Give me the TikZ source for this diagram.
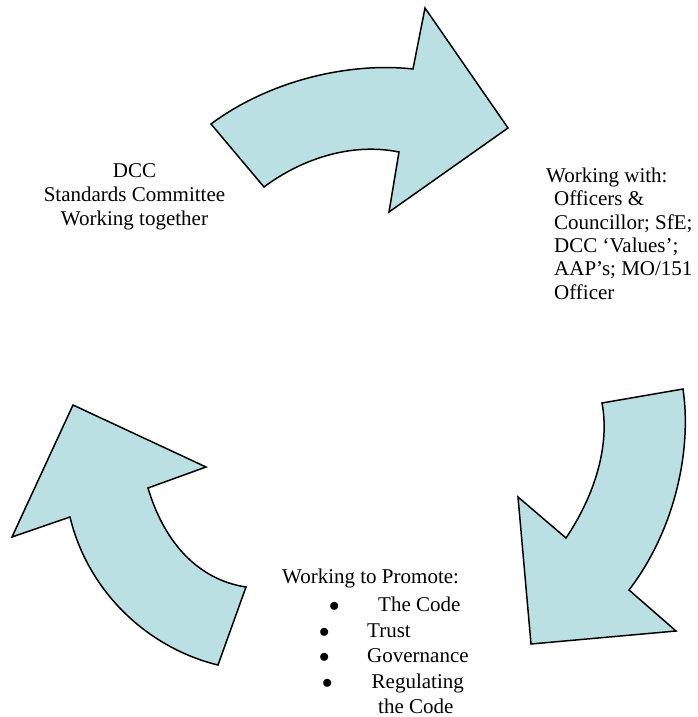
\documentclass[tikz,border=0pt]{standalone}
\usepackage{fontspec}
\setmainfont{Liberation Serif}
\definecolor{cyclefill}{RGB}{187,224,227}
\tikzset{
  cyclearrow/.style={fill=cyclefill, draw=black, line width=1.5pt, line join=miter},
  cycletext/.style={inner sep=0pt, font=\fontsize{21}{24}\selectfont}
}
\begin{document}
\begin{tikzpicture}[x=1pt,y=-1pt]
  \useasboundingbox (0,0) rectangle (698,717);

  % the three curved arrows
  \draw[cyclearrow] (211,124) .. controls (270,80) and (350,62) .. (413,69) -- (425,8) -- (508,128) -- (389,212) -- (399,152) .. controls (350,142) and (300,160) .. (264,187) -- cycle;
  \draw[cyclearrow] (602,403) -- (683,389) .. controls (692,450) and (675,530) .. (629,590) -- (676,631) -- (531,644) -- (518,497) -- (566,538) .. controls (595,495) and (610,445) .. (602,403) -- cycle;
  \draw[cyclearrow] (218,665) -- (246,587) .. controls (200,580) and (165,545) .. (148,488) -- (206,467) -- (73,405) -- (12,537) -- (70,517) .. controls (88,592) and (148,648) .. (218,665) -- cycle;

  % base of a multi-line node is its last line
  \node[cycletext, align=center, anchor=base] (dcc) at (134.5,225) {DCC\\Standards Committee\\Working together};
  \node[cycletext, align=left, anchor=base west] (with) at (546,299) {Working with:\\[-0.7pt]\hspace*{8pt}Officers \&\\[-0.7pt]\hspace*{8pt}Councillor; SfE;\\[-0.7pt]\hspace*{8pt}DCC ‘Values’;\\[-0.7pt]\hspace*{8pt}AAP’s; MO/151\\[-0.7pt]\hspace*{8pt}Officer};

  \node[cycletext, anchor=base west] (promote) at (282,583) {Working to Promote:};
  \node[cycletext, anchor=base west] (code) at (329,611) {\makebox[49pt][l]{$\bullet$}The Code};
  \node[cycletext, anchor=base west] (trust) at (319,637) {\makebox[48pt][l]{$\bullet$}Trust};
  \node[cycletext, anchor=base west] (gov) at (319,662) {\makebox[48pt][l]{$\bullet$}Governance};
  \node[cycletext, anchor=base west] (reg) at (322,688) {\makebox[49.5pt][l]{$\bullet$}Regulating};
  \node[cycletext, anchor=base west] (regcode) at (378,713) {the Code};
\end{tikzpicture}
\end{document}
